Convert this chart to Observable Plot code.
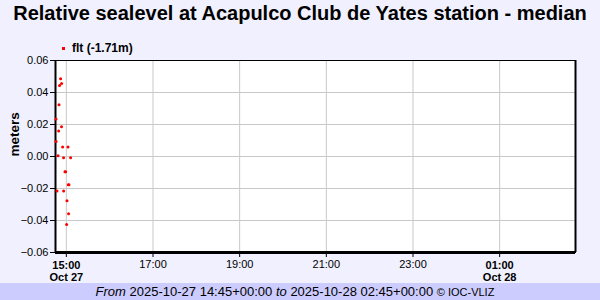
<!DOCTYPE html>
<html>
<head>
<meta charset="utf-8">
<script src="https://cdn.jsdelivr.net/npm/d3@7"></script>
<script src="https://cdn.jsdelivr.net/npm/@observablehq/plot@0.6"></script>
<style>
  html, body { margin: 0; padding: 0; background: #f0f0fe; }
  #wrap { position: relative; width: 600px; height: 300px; background: #f0f0fe; font-family: "Liberation Sans", Arial, sans-serif; overflow: hidden; }
  #title { position: absolute; left: 0; width: 600px; top: 2px; text-align: center; font-weight: bold; font-size: 20px; color: #000; }
  #legend { position: absolute; left: 62px; top: 41px; font-size: 12px; font-weight: bold; }
  #legend .dot { display: inline-block; width: 3px; height: 3px; background: red; margin-right: 7px; vertical-align: middle; }
  #footer { position: absolute; left: 0; top: 283px; width: 590px; padding-right: 10px; height: 17px; background: #ccccfe; text-align: center; font-size: 13px; line-height: 17px; }
  #footer .c { font-size: 11px; }
  svg { position: absolute; left: 0; top: 0; }
</style>
</head>
<body>
<div id="wrap">
  <div id="chart"></div>
  <div id="title">Relative sealevel at Acapulco Club de Yates station - median</div>
  <div id="legend"><span class="dot"></span>flt (-1.71m)</div>
  <div id="footer"><i>From</i> 2025-10-27 14:45+00:00 <i>to</i> 2025-10-28 02:45+00:00 <span class="c">© IOC-VLIZ</span></div>
</div>
<script>
const seriesName = "flt (-1.71m)";
const times = [
  "2025-10-27T14:45:40Z", "2025-10-27T14:45:45Z", "2025-10-27T14:47:05Z", "2025-10-27T14:48:30Z",
  "2025-10-27T14:49:20Z", "2025-10-27T14:49:50Z", "2025-10-27T14:50:40Z", "2025-10-27T14:52:05Z",
  "2025-10-27T14:53:25Z", "2025-10-27T14:53:20Z", "2025-10-27T14:54:50Z", "2025-10-27T14:56:10Z",
  "2025-10-27T14:56:15Z", "2025-10-27T14:58:05Z", "2025-10-27T14:59:00Z", "2025-10-27T15:00:25Z",
  "2025-10-27T15:00:55Z", "2025-10-27T15:02:20Z", "2025-10-27T15:02:40Z", "2025-10-27T15:03:05Z",
  "2025-10-27T15:03:40Z", "2025-10-27T15:05:55Z"
];
const values = [
  0.0235, 0.0094, -0.0215, 0.0004,
  0.0160, 0.0323, 0.0444, 0.0486,
  0.0456, 0.0186, 0.0060, -0.0008,
  -0.0215, -0.0096, -0.0096, -0.0425,
  -0.0277, 0.0060, -0.0177, -0.0358,
  -0.0177, -0.0008
];
const yTicks = [-0.06, -0.04, -0.02, 0.00, 0.02, 0.04, 0.06];
const xTicksBold = ["2025-10-27T15:00:00Z", "2025-10-28T01:00:00Z"].map(d => new Date(d));
const xTicksNormal = ["2025-10-27T17:00:00Z", "2025-10-27T19:00:00Z", "2025-10-27T21:00:00Z", "2025-10-27T23:00:00Z"].map(d => new Date(d));
const xDomain = [new Date("2025-10-27T14:45:00Z"), new Date("2025-10-28T02:45:00Z")];

const data = times.map((t, i) => ({time: new Date(t), value: values[i]}));
const hm = d3.utcFormat("%H:%M");
const md = d3.utcFormat("%b %-d");

const chart = Plot.plot({
  width: 600,
  height: 300,
  marginLeft: 55,
  marginRight: 25,
  marginTop: 60,
  marginBottom: 48,
  style: {background: "transparent", fontFamily: "Liberation Sans, Arial, sans-serif", fontSize: "11px", color: "#000"},
  x: {type: "utc", domain: xDomain},
  y: {domain: [-0.06, 0.06]},
  marks: [
    Plot.frame({fill: "white", stroke: "none"}),
    Plot.gridX([...xTicksBold, ...xTicksNormal], {stroke: "#c8c8c8", strokeOpacity: 1, strokeWidth: 1}),
    Plot.gridY(yTicks, {stroke: "#c8c8c8", strokeOpacity: 1, strokeWidth: 1}),
    Plot.frame({stroke: "black", strokeWidth: 1}),
    Plot.axisY(yTicks, {tickSize: 5, tickPadding: 2, tickFormat: d3.format(".2f"), fontSize: 11, label: null}),
    Plot.axisX(xTicksBold, {tickSize: 5, tickPadding: 3, fontWeight: "bold", fontSize: 11, label: null,
      tickFormat: d => hm(d) + "\n" + md(d), lineHeight: 1.1}),
    Plot.axisX(xTicksNormal, {tickSize: 5, tickPadding: 3, fontSize: 11, label: null, tickFormat: d => hm(d)}),
    Plot.ruleX([xDomain[0]], {stroke: "black", strokeWidth: 2}),
    Plot.ruleX([xDomain[1]], {stroke: "black", strokeWidth: 2}),
    Plot.ruleY([-0.06], {stroke: "black", strokeWidth: 3}),
    Plot.dot(data, {x: "time", y: "value", r: 1.5, fill: "red", stroke: "none"}),
    Plot.text(["meters"], {frameAnchor: "left", dx: -41, rotate: -90, fontWeight: "bold", fontSize: 13.5})
  ]
});
document.getElementById("chart").appendChild(chart);
</script>
</body>
</html>
